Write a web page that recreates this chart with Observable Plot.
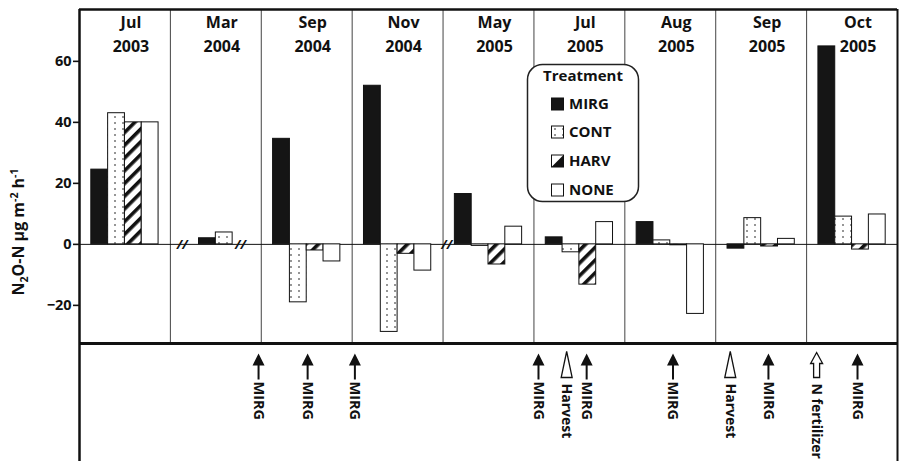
<!DOCTYPE html>
<html><head><meta charset="utf-8">
<script src="https://cdn.jsdelivr.net/npm/d3@7"></script>
<script src="https://cdn.jsdelivr.net/npm/@observablehq/plot@0.6"></script>
<style>html,body{margin:0;padding:0;overflow:hidden;background:#fff}</style>
</head><body><div id="chart"></div>
<script>
// ---- data ----
const months = ["Jul","Mar","Sep","Nov","May","Jul","Aug","Sep","Oct"];
const years  = ["2003","2004","2004","2004","2005","2005","2005","2005","2005"];
const treatments = ["MIRG","CONT","HARV","NONE"];
const MIRG = [24.5, 2.0, 34.6, 52.0, 16.5, 2.3, 7.3, -1.4, 64.9];
const CONT = [43.0, 3.9, -19.0, -28.7, -0.5, -2.6, 1.3, 8.6, 9.1];
const HARV = [40.0, null, -2.0, -3.1, -6.6, -13.2, -0.3, -0.7, -1.7];
const NONE = [40.0, null, -5.6, -8.6, 5.8, 7.3, -22.8, 1.8, 9.8];
const yTicks = [60, 40, 20, 0, -20];
// management events (time in sampling-period units)
const eventLabels = ["MIRG","MIRG","MIRG","MIRG","Harvest","MIRG","MIRG","Harvest","MIRG","N fertilizer","MIRG"];
const eventTypes  = ["graze","graze","graze","graze","harvest","graze","graze","harvest","graze","fert","graze"];
const eventTimes  = [1.47, 2.01, 2.53, 4.55, 4.86, 5.08, 6.03, 6.66, 7.08, 7.61, 8.06];
const breakTimes  = [0.63, 1.27, 3.54];

// ---- build tables ----
const series = {MIRG, CONT, HARV, NONE};
const bw = 0.185;
const rows = [];
months.forEach((m, i) => {
  const present = treatments.filter(t => series[t][i] != null);
  present.forEach((t, k) => {
    const x1 = i + (k - present.length / 2) * bw;
    rows.push({treatment: t, value: series[t][i], x1, x2: x1 + bw});
  });
});
const events = eventLabels.map((l, k) => ({label: l, type: eventTypes[k], t: eventTimes[k]}));

const filledArrow = {draw(c) { c.moveTo(0,10); c.lineTo(6,22); c.lineTo(1,22); c.lineTo(1,36); c.lineTo(-1,36); c.lineTo(-1,22); c.lineTo(-6,22); c.closePath(); }};
const openTri = {draw(c) { c.moveTo(0,8); c.lineTo(5.5,34); c.lineTo(-5.5,34); c.closePath(); }};
const blockArrow = {draw(c) { c.moveTo(0,9); c.lineTo(6,20); c.lineTo(3,20); c.lineTo(3,34); c.lineTo(-3,34); c.lineTo(-3,20); c.lineTo(-6,20); c.closePath(); }};

const yTop = 77, yBot = -32.5;
const font = {fontWeight: "bold"};

const svg = Plot.plot({
  width: 901, height: 461,
  marginLeft: 79, marginRight: 4, marginTop: 9, marginBottom: 118,
  style: {fontFamily: "'Open Sans', sans-serif", background: "#fff", color: "#111"},
  x: {domain: [-0.5, 8.5], axis: null},
  y: {domain: [yBot, yTop], axis: null},
  color: {type: "ordinal", domain: treatments, range: ["#151515", "url(#dots)", "url(#stripes)", "#ffffff"]},
  marks: [
    Plot.ruleX(d3.range(0.5, 8.5, 1), {y1: yBot, y2: yTop, stroke: "#444", strokeWidth: 1}),
    Plot.ruleY([0], {stroke: "#111", strokeWidth: 1}),
    Plot.rectY(rows, {x1: "x1", x2: "x2", y1: 0, y2: "value", fill: "treatment", stroke: "#111", strokeWidth: 1}),
    Plot.text(breakTimes, {x: d => d, y: 0, text: () => "//", fontSize: 13, fontStyle: "italic", ...font}),
    Plot.text(months, {x: (d, i) => i, frameAnchor: "top", lineAnchor: "middle", dy: 13, dx: 6, text: d => d, fontSize: 16, ...font}),
    Plot.text(years, {x: (d, i) => i, frameAnchor: "top", lineAnchor: "middle", dy: 37, dx: 6, text: d => d, fontSize: 16, ...font}),
    Plot.axisY({ticks: yTicks, tickSize: 6, tickPadding: 2, fontSize: 14.5, strokeWidth: 1.6, label: null, ...font}),
    Plot.ruleY([yTop], {stroke: "#111", strokeWidth: 2.7}),
    Plot.ruleY([yBot], {stroke: "#111", strokeWidth: 3}),
    Plot.ruleX([-0.5], {y1: yTop, y2: -75, stroke: "#111", strokeWidth: 2.5}),
    Plot.ruleX([8.5], {y1: yTop, y2: -75, stroke: "#111", strokeWidth: 2}),
    // management events below the chart
    Plot.dot(events.filter(d => d.type === "graze"), {x: "t", y: () => yBot, symbol: filledArrow, fill: "#111", stroke: "none"}),
    Plot.dot(events.filter(d => d.type === "harvest"), {x: "t", y: () => yBot, symbol: openTri, fill: "#fff", stroke: "#111", strokeWidth: 1.3}),
    Plot.dot(events.filter(d => d.type === "fert"), {x: "t", y: () => yBot, symbol: blockArrow, fill: "#fff", stroke: "#111", strokeWidth: 1.3}),
    Plot.text(events.filter(d => d.type === "graze"), {x: "t", y: () => yBot, dy: 38, text: "label", rotate: 90, textAnchor: "start", fontSize: 14.5, ...font}),
    Plot.text(events.filter(d => d.type !== "graze"), {x: "t", y: () => yBot, dy: 40, text: "label", rotate: 90, textAnchor: "start", fontSize: 14, ...font})
  ]
});

const s = d3.select(svg);
const defs = s.insert("defs", ":first-child");
const pd = defs.append("pattern").attr("id", "dots").attr("patternUnits", "userSpaceOnUse").attr("width", 8).attr("height", 6);
pd.append("rect").attr("width", 8).attr("height", 6).attr("fill", "#fff");
pd.append("circle").attr("cx", 3).attr("cy", 3).attr("r", 0.8).attr("fill", "#111");
const ps = defs.append("pattern").attr("id", "stripes").attr("patternUnits", "userSpaceOnUse").attr("width", 9).attr("height", 9).attr("patternTransform", "rotate(45)");
ps.append("rect").attr("width", 9).attr("height", 9).attr("fill", "#fff");
ps.append("rect").attr("width", 3.6).attr("height", 9).attr("fill", "#111");

// y-axis title with sub/superscripts
const yt = s.append("text").attr("transform", "translate(24,232) rotate(-90)")
  .attr("text-anchor", "middle").attr("font-size", 16).attr("font-weight", "bold").attr("fill", "#111");
yt.append("tspan").text("N");
yt.append("tspan").attr("font-size", 10.5).attr("dy", 4).text("2");
yt.append("tspan").attr("dy", -4).text("O-N µg m");
yt.append("tspan").attr("font-size", 10.5).attr("dy", -6).text("-2");
yt.append("tspan").attr("dy", 6).text(" h");
yt.append("tspan").attr("font-size", 10.5).attr("dy", -6).text("-1");

// legend box
const lg = s.append("g").attr("font-weight", "bold").attr("font-size", 15).attr("fill", "#111").attr("text-anchor", "start");
lg.append("rect").attr("x", 527.5).attr("y", 64.5).attr("width", 111).attr("height", 137).attr("rx", 15)
  .attr("fill", "#fff").attr("stroke", "#222").attr("stroke-width", 1.5);
lg.append("text").attr("x", 583).attr("y", 76).attr("dy", "0.35em").attr("text-anchor", "middle").text("Treatment");
const ly = [104, 132, 161, 190];
const swFill = ["#151515", "url(#dots)", "#fff", "#fff"];
treatments.forEach((t, k) => {
  lg.append("rect").attr("x", 551.5).attr("y", ly[k] - 6).attr("width", 12).attr("height", 12)
    .attr("fill", swFill[k]).attr("stroke", "#111").attr("stroke-width", 1);
  if (t === "HARV") lg.append("path").attr("d", `M563.5,${ly[k]-6} L563.5,${ly[k]+6} L551.5,${ly[k]+6} Z`).attr("fill", "#111");
  lg.append("text").attr("x", 569).attr("y", ly[k]).attr("dy", "0.35em").attr("text-anchor", "start").text(t);
});

document.getElementById("chart").appendChild(svg);
</script>
</body></html>
